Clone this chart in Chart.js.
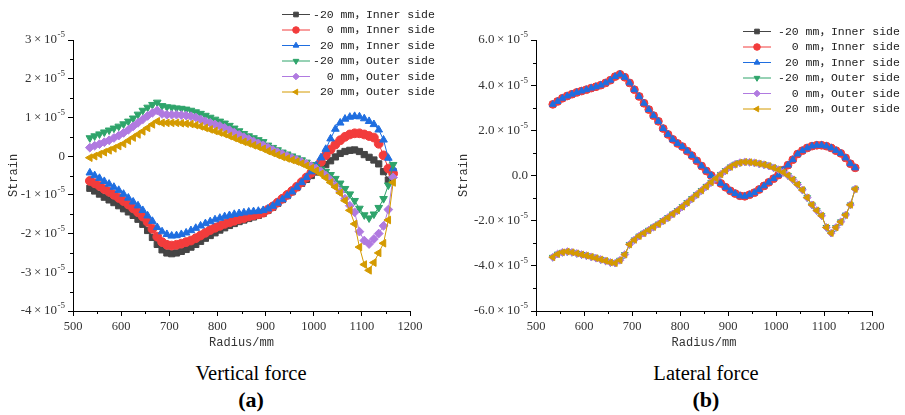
<!DOCTYPE html>
<html>
<head>
<meta charset="utf-8">
<script src="https://cdn.jsdelivr.net/npm/chart.js@4.4.1/dist/chart.umd.min.js"></script>
<style>
  body { margin: 0; background: #fff; }
  #wrap { position: relative; width: 905px; height: 415px; overflow: hidden; }
  canvas { position: absolute; top: 0; }
  .cap { position: absolute; font-family: "Liberation Serif", "Times New Roman", serif; color: #000;
         text-align: center; white-space: nowrap; line-height: 1; }
</style>
</head>
<body>
<div id="wrap">
  <canvas id="chartA" width="450" height="350" style="left:0"></canvas>
  <canvas id="chartB" width="455" height="350" style="left:450px"></canvas>
  <div class="cap" style="left:151px;width:200px;top:363px;font-size:20.5px">Vertical force</div>
  <div class="cap" style="left:151px;width:200px;top:389px;font-size:22px;font-weight:bold">(a)</div>
  <div class="cap" style="left:606px;width:200px;top:363px;font-size:20.5px">Lateral force</div>
  <div class="cap" style="left:606px;width:200px;top:389px;font-size:22px;font-weight:bold">(b)</div>
</div>
<script>
// radius positions (mm), strain values in units of 1e-5
const radius = [535, 545, 555, 565, 575, 585, 595, 605, 615, 625,
  635, 645, 655, 665, 675, 685, 695, 705, 715, 725,
  735, 745, 755, 765, 775, 785, 795, 805, 815, 825,
  835, 845, 855, 865, 875, 885, 895, 905, 915, 925,
  935, 945, 955, 965, 975, 985, 995, 1005, 1015, 1025,
  1035, 1045, 1055, 1065, 1075, 1085, 1095, 1105, 1115, 1125,
  1135, 1145, 1155, 1165];

const labels = ["-20 mm，Inner side", "  0 mm，Inner side", " 20 mm，Inner side",
  "-20 mm，Outer side", "  0 mm，Outer side", " 20 mm，Outer side"];
const colors = ["#454545", "#f23c3c", "#1f6ee0", "#2fa46b", "#b07ae0", "#d49a00"];

// (a) vertical force
const vertInnerM20 = [-0.83, -0.90, -0.98, -1.06, -1.13, -1.20, -1.28, -1.36, -1.44, -1.53,
  -1.63, -1.76, -1.92, -2.10, -2.28, -2.42, -2.50, -2.52, -2.50, -2.46,
  -2.41, -2.35, -2.28, -2.20, -2.12, -2.05, -1.98, -1.91, -1.85, -1.79,
  -1.74, -1.69, -1.65, -1.61, -1.57, -1.53, -1.48, -1.40, -1.32, -1.22,
  -1.12, -1.02, -0.92, -0.81, -0.70, -0.60, -0.50, -0.41, -0.32, -0.22,
  -0.12, -0.02, 0.07, 0.12, 0.15, 0.16, 0.12, 0.04, -0.03, -0.10,
  -0.20, -0.40, -0.62, -0.40];
const vertInner0 = [-0.64, -0.70, -0.77, -0.85, -0.92, -1.00, -1.08, -1.16, -1.25, -1.35,
  -1.45, -1.56, -1.70, -1.88, -2.08, -2.22, -2.29, -2.31, -2.29, -2.26,
  -2.22, -2.18, -2.12, -2.05, -1.98, -1.91, -1.85, -1.80, -1.75, -1.71,
  -1.67, -1.63, -1.60, -1.56, -1.53, -1.50, -1.46, -1.38, -1.30, -1.20,
  -1.10, -1.00, -0.90, -0.79, -0.67, -0.55, -0.43, -0.30, -0.15, 0.02,
  0.17, 0.30, 0.41, 0.50, 0.56, 0.59, 0.59, 0.56, 0.52, 0.48,
  0.32, 0.02, -0.32, -0.45];
const vertInner20 = [-0.43, -0.50, -0.57, -0.65, -0.72, -0.80, -0.88, -0.98, -1.08, -1.18,
  -1.28, -1.40, -1.54, -1.68, -1.84, -1.95, -2.02, -2.06, -2.05, -2.02,
  -1.98, -1.92, -1.86, -1.80, -1.74, -1.69, -1.64, -1.60, -1.56, -1.53,
  -1.50, -1.48, -1.46, -1.44, -1.43, -1.42, -1.40, -1.36, -1.29, -1.21,
  -1.12, -1.02, -0.92, -0.80, -0.68, -0.55, -0.40, -0.24, -0.04, 0.18,
  0.45, 0.70, 0.86, 0.96, 1.01, 1.03, 1.02, 0.97, 0.90, 0.82,
  0.68, 0.42, -0.05, -0.32];
const vertOuterM20 = [0.47, 0.52, 0.57, 0.62, 0.67, 0.72, 0.77, 0.83, 0.90, 0.98,
  1.08, 1.18, 1.26, 1.33, 1.39, 1.30, 1.27, 1.26, 1.24, 1.23,
  1.21, 1.18, 1.14, 1.10, 1.05, 1.00, 0.95, 0.90, 0.85, 0.79,
  0.72, 0.65, 0.58, 0.52, 0.47, 0.42, 0.37, 0.28, 0.22, 0.16,
  0.10, 0.05, 0.00, -0.05, -0.10, -0.16, -0.22, -0.28, -0.34, -0.40,
  -0.48, -0.58, -0.70, -0.84, -0.98, -1.15, -1.35, -1.52, -1.60, -1.50,
  -1.33, -1.10, -0.75, -0.22];
const vertOuter0 = [0.22, 0.27, 0.31, 0.36, 0.41, 0.47, 0.53, 0.60, 0.68, 0.77,
  0.86, 0.95, 1.04, 1.12, 1.18, 1.09, 1.07, 1.07, 1.07, 1.06,
  1.05, 1.03, 1.00, 0.95, 0.90, 0.86, 0.82, 0.78, 0.73, 0.67,
  0.61, 0.55, 0.49, 0.44, 0.38, 0.33, 0.28, 0.22, 0.16, 0.10,
  0.05, 0.00, -0.05, -0.10, -0.15, -0.20, -0.26, -0.32, -0.40, -0.50,
  -0.62, -0.76, -0.92, -1.10, -1.28, -1.45, -1.95, -2.18, -2.27, -2.14,
  -2.00, -1.80, -1.38, -0.55];
const vertOuter20 = [-0.04, 0.00, 0.05, 0.10, 0.15, 0.20, 0.26, 0.32, 0.40, 0.48,
  0.56, 0.64, 0.73, 0.82, 0.90, 0.86, 0.86, 0.86, 0.86, 0.85,
  0.84, 0.83, 0.80, 0.77, 0.73, 0.69, 0.65, 0.61, 0.57, 0.52,
  0.47, 0.42, 0.37, 0.33, 0.28, 0.24, 0.19, 0.13, 0.08, 0.03,
  -0.02, -0.06, -0.10, -0.14, -0.19, -0.25, -0.31, -0.38, -0.46, -0.56,
  -0.68, -0.80, -0.95, -1.15, -1.40, -1.75, -2.35, -2.80, -2.95, -2.75,
  -2.50, -2.25, -1.65, -0.68];

// (b) lateral force: the three inner curves coincide, as do the three outer ones
const latInner = [3.15, 3.28, 3.42, 3.52, 3.60, 3.68, 3.74, 3.80, 3.87, 3.93,
  4.00, 4.10, 4.22, 4.38, 4.48, 4.35, 4.10, 3.80, 3.50, 3.20,
  2.92, 2.65, 2.40, 2.08, 1.82, 1.60, 1.42, 1.28, 1.08, 0.88,
  0.65, 0.42, 0.20, 0.00, -0.18, -0.35, -0.52, -0.68, -0.80, -0.90,
  -0.92, -0.85, -0.76, -0.62, -0.46, -0.30, -0.14, 0.02, 0.24, 0.46,
  0.70, 0.95, 1.10, 1.22, 1.30, 1.34, 1.34, 1.30, 1.22, 1.10,
  0.98, 0.78, 0.52, 0.34];
const latOuter = [-3.62, -3.48, -3.40, -3.37, -3.40, -3.45, -3.50, -3.55, -3.60, -3.66,
  -3.72, -3.78, -3.85, -3.88, -3.75, -3.50, -3.05, -2.85, -2.68, -2.55,
  -2.42, -2.28, -2.15, -2.00, -1.86, -1.70, -1.55, -1.38, -1.20, -1.02,
  -0.84, -0.66, -0.48, -0.30, -0.13, 0.05, 0.22, 0.38, 0.50, 0.57,
  0.60, 0.59, 0.56, 0.52, 0.48, 0.42, 0.34, 0.26, 0.14, 0.00,
  -0.18, -0.40, -0.64, -0.98, -1.30, -1.55, -1.78, -2.30, -2.55, -2.30,
  -2.05, -1.75, -1.30, -0.60];

const vertSeries = [vertInnerM20, vertInner0, vertInner20, vertOuterM20, vertOuter0, vertOuter20];
const latSeries = [latInner, latInner, latInner, latOuter, latOuter, latOuter];

const markers = [
  { pointStyle: "rect", rotation: 0 },
  { pointStyle: "circle", rotation: 0 },
  { pointStyle: "triangle", rotation: 0 },
  { pointStyle: "triangle", rotation: 180 },
  { pointStyle: "rectRot", rotation: 0 },
  { pointStyle: "triangle", rotation: -90 },
];

const serif = '"Liberation Serif", "DejaVu Serif", serif';
const tickFont = { family: serif, size: 12.5 };
const titleFont = { family: '"Liberation Mono", "DejaVu Sans Mono", monospace', size: 12 };

// minor ticks, y labels with exponent, and the legend, drawn on the canvas
const extras = {
  id: "extras",
  afterDraw(chart, args, opts) {
    const ctx = chart.ctx;
    const xs = chart.scales.x, ys = chart.scales.y;
    ctx.save();
    ctx.strokeStyle = "#000";
    ctx.lineWidth = 1;
    opts.xMinor.forEach((v) => {
      const px = Math.round(xs.getPixelForValue(v)) + 0.5;
      ctx.beginPath();
      ctx.moveTo(px, ys.bottom);
      ctx.lineTo(px, ys.bottom + 3);
      ctx.stroke();
    });
    opts.yMinor.forEach((v) => {
      const py = Math.round(ys.getPixelForValue(v)) + 0.5;
      ctx.beginPath();
      ctx.moveTo(xs.left, py);
      ctx.lineTo(xs.left - 3, py);
      ctx.stroke();
    });

    // y tick labels: mantissa × 10 with a raised -5
    const rightX = xs.left - 8;
    ctx.fillStyle = "#333";
    ctx.textAlign = "right";
    ctx.textBaseline = "middle";
    ys.ticks.forEach((t) => {
      const py = ys.getPixelForValue(t.value);
      if (t.value === 0) {
        ctx.font = "13px " + serif;
        ctx.fillText(opts.zeroLabel, rightX, py);
        return;
      }
      ctx.font = "9px " + serif;
      const supW = ctx.measureText("-5").width;
      ctx.fillText("-5", rightX, py - 5);
      ctx.font = "13px " + serif;
      ctx.fillText(opts.fmt(t.value) + "\u2009×\u200910", rightX - supW - 0.5, py);
    });

    ctx.textAlign = "left";
    ctx.font = '11.5px "Liberation Mono", "Noto Sans CJK SC", monospace';
    chart.data.datasets.forEach((ds, i) => {
      const y = opts.top + i * opts.step;
      ctx.strokeStyle = ds.borderColor;
      ctx.beginPath();
      ctx.moveTo(opts.x0, y + 0.5);
      ctx.lineTo(opts.x1, y + 0.5);
      ctx.stroke();
      ctx.fillStyle = ds.borderColor;
      ctx.strokeStyle = ds.borderColor;
      Chart.helpers.drawPoint(ctx, {
        pointStyle: ds.pointStyle, rotation: ds.pointRotation,
        radius: 3.3, borderWidth: 1,
      }, (opts.x0 + opts.x1) / 2, y + 0.5);
      ctx.fillStyle = "#222";
      ctx.fillText(ds.label, opts.textX, y + 0.5);
    });
    ctx.restore();
  },
};

function buildChart(id, series, cfg) {
  const datasets = series.map((vals, i) => ({
    label: labels[i],
    data: radius.map((r, k) => ({ x: r, y: vals[k] })),
    borderColor: colors[i],
    backgroundColor: colors[i],
    pointBackgroundColor: colors[i],
    pointBorderColor: colors[i],
    borderWidth: 1,
    pointRadius: cfg.pointRadius,
    pointBorderWidth: 1,
    pointStyle: markers[i].pointStyle,
    pointRotation: markers[i].rotation,
    order: 6 - i,
  }));

  return new Chart(document.getElementById(id).getContext("2d"), {
    type: "line",
    data: { datasets },
    options: {
      responsive: false,
      animation: false,
      devicePixelRatio: 1,
      layout: { padding: { left: 0, right: cfg.padRight, top: 40, bottom: 0 } },
      plugins: {
        legend: { display: false },
        tooltip: { enabled: false },
        extras: cfg.extras,
      },
      scales: {
        x: {
          type: "linear",
          min: 500,
          max: 1200,
          afterFit: (s) => { s.height = 39; },
          ticks: { stepSize: 100, font: tickFont, color: "#333", padding: 3, maxRotation: 0, autoSkip: false,
                   callback: (v) => String(v) },
          grid: { drawOnChartArea: false, tickLength: 5, tickColor: "#000" },
          border: { color: "#000", width: 1 },
          title: { display: true, text: "Radius/mm", font: titleFont, color: "#333", padding: 0 },
        },
        y: {
          min: cfg.yMin,
          max: cfg.yMax,
          afterFit: (s) => { s.width = cfg.yWidth; },
          ticks: { stepSize: cfg.yStep, callback: () => "" },
          grid: { drawOnChartArea: false, tickLength: 5, tickColor: "#000" },
          border: { color: "#000", width: 1 },
          title: { display: true, text: "Strain", font: titleFont, color: "#333", padding: { top: 7, bottom: 0 } },
        },
      },
    },
    plugins: [extras],
  });
}

buildChart("chartA", vertSeries, {
  pointRadius: 4.4, padRight: 40, yWidth: 73,
  yMin: -4, yMax: 3, yStep: 1,
  extras: {
    xMinor: [550, 650, 750, 850, 950, 1050, 1150],
    yMinor: [2.5, 1.5, 0.5, -0.5, -1.5, -2.5, -3.5],
    zeroLabel: "0", fmt: (v) => String(v),
    x0: 282, x1: 310, textX: 313, top: 14, step: 15.5,
  },
});

buildChart("chartB", latSeries, {
  pointRadius: 3.9, padRight: 33, yWidth: 86,
  yMin: -6, yMax: 6, yStep: 2,
  extras: {
    xMinor: [550, 650, 750, 850, 950, 1050, 1150],
    yMinor: [5, 3, 1, -1, -3, -5],
    zeroLabel: "0.0", fmt: (v) => v.toFixed(1),
    x0: 293, x1: 321, textX: 328, top: 31, step: 15.5,
  },
});
</script>
</body>
</html>
